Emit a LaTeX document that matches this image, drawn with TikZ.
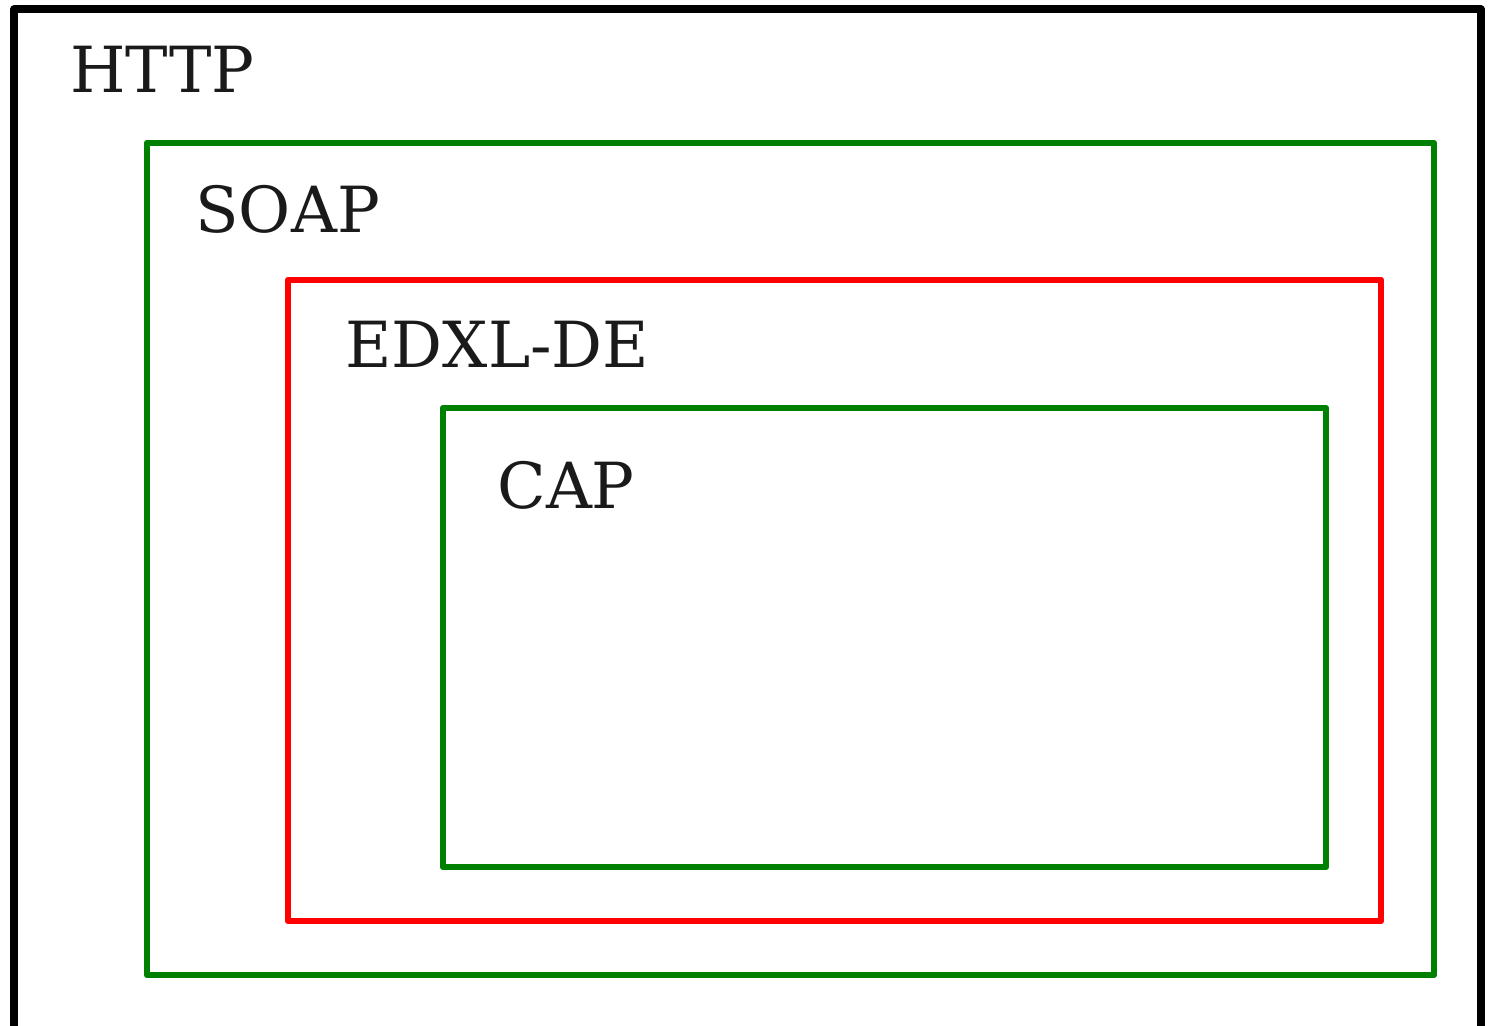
\documentclass[tikz,border=0pt]{standalone}
\usepackage{fontspec}
\setmainfont{DejaVu Serif}
\definecolor{boxgreen}{HTML}{008000}
\definecolor{boxred}{HTML}{FF0000}
\definecolor{txt}{HTML}{1A1A1A}
\begin{document}
\begin{tikzpicture}[x=0.5pt,y=-0.5pt,
  frame/.style={line width=3.2pt,line join=round,line cap=round},
  lbl/.style={anchor=base west,inner sep=0pt,text=txt,font=\fontsize{31.8pt}{36pt}\selectfont}]
\useasboundingbox (0,0) rectangle (1496,1025);
\draw[frame,black,line width=3.6pt] (14,1040) -- (14,9) -- (1481,9) -- (1481,1040);
\draw[frame,boxgreen] (147,143) rectangle (1434,975);
\draw[frame,boxred] (288,280) rectangle (1381,921);
\draw[frame,boxgreen] (443,408) rectangle (1326,867);
\node[lbl] (http) at (70,92) {HTTP};
\node[lbl] (soap) at (195,232) {SOAP};
\node[lbl] (edxl) at (345,367) {EDXL-DE};
\node[lbl] (cap) at (497,508) {CAP};
\end{tikzpicture}
\end{document}
